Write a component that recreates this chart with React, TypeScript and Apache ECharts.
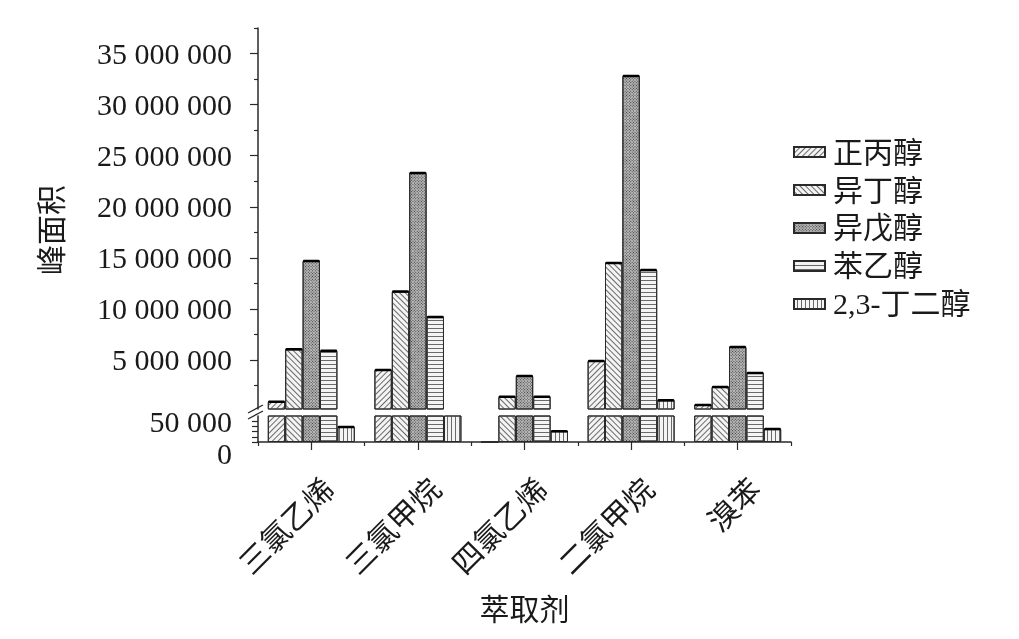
import React, { useEffect, useRef } from "react";
import * as echarts from "echarts";

const categories = ["三氯乙烯", "三氯甲烷", "四氯乙烯", "二氯甲烷", "溴苯"];
const seriesNames = ["正丙醇", "异丁醇", "异戊醇", "苯乙醇", "2,3-丁二醇"];
const propanol = [900000, 4020000, 0, 4900000, 600000];
const isobutanol = [6050000, 11700000, 1400000, 14500000, 2350000];
const isopentanol = [14700000, 23300000, 3430000, 32800000, 6270000];
const phenylethanol = [5900000, 9200000, 1400000, 13800000, 3730000];
const butanediol = [36000, 120000, 26000, 1050000, 31000];
const upperLabels = [5000000, 10000000, 15000000, 20000000, 25000000, 30000000, 35000000];
const upperMinor = [2500000, 7500000, 12500000, 17500000, 22500000, 27500000, 32500000, 37500000];
const lowerLabels = [0, 50000];
const lowerTicks = [0, 12500, 25000, 37500, 50000];

const allSeries = [propanol, isobutanol, isopentanol, phenylethanol, butanediol];
const UPPER_MIN = 200000;
const UPPER_MAX = 37500000;
const LOWER_MAX = 62500;

const FONT = "'Liberation Serif', 'Times New Roman', 'Noto Sans CJK SC', serif";
const TXT = "#1a1a1a";
const LINE = "#2a2a2a";
const FS = 30;

const fmt = (v: number) => String(v).replace(/\B(?=(\d{3})+(?!\d))/g, " ");

const styles = [
  { color: "#f4f4f4", decal: { symbol: "rect", symbolSize: 1, color: "#6a6a6a", dashArrayX: [1, 0], dashArrayY: [1, 2.5], rotation: -Math.PI / 4 } },
  { color: "#f4f4f4", decal: { symbol: "rect", symbolSize: 1, color: "#6a6a6a", dashArrayX: [1, 0], dashArrayY: [1, 2.5], rotation: Math.PI / 4 } },
  { color: "#b8b8b8", decal: { symbol: "rect", symbolSize: 1, color: "#3c3c3c", dashArrayX: [1, 1], dashArrayY: [1, 1], rotation: Math.PI / 4 } },
  { color: "#f4f4f4", decal: { symbol: "rect", symbolSize: 1, color: "#6a6a6a", dashArrayX: [1, 0], dashArrayY: [1, 2.5], rotation: 0 } },
  { color: "#f4f4f4", decal: { symbol: "rect", symbolSize: 1, color: "#6a6a6a", dashArrayX: [1, 0], dashArrayY: [1, 2.5], rotation: Math.PI / 2 } },
];

const GAP = 0.184;

function capRenderer(params: any, api: any) {
  const cat = api.value(0);
  const val = api.value(1);
  const idx = api.value(2);
  const pt = api.coord([cat, val]);
  const band = api.size([1, 0])[0];
  const bw = (band * (1 - GAP)) / 5;
  const cx = pt[0] + (idx - 2) * bw;
  return {
    type: "line",
    shape: { x1: cx - bw / 2 + 1.5, y1: pt[1], x2: cx + bw / 2 - 1.5, y2: pt[1] },
    style: { stroke: "#000", lineWidth: 2.5, lineCap: "round" },
  };
}

export default function App() {
  const ref = useRef<HTMLDivElement>(null);
  useEffect(() => {
    if (!ref.current) return;
    const chart = echarts.init(ref.current, null, { renderer: "svg" });

    const upperCaps: number[][] = [];
    const lowerCaps: number[][] = [];
    allSeries.forEach((arr, si) =>
      arr.forEach((v, ci) => {
        if (v >= UPPER_MIN) upperCaps.push([ci, v, si]);
        else if (v > 0 && v < LOWER_MAX) lowerCaps.push([ci, v, si]);
      })
    );

    const barSeries: any[] = [];
    allSeries.forEach((arr, si) => {
      const itemStyle = { color: styles[si].color, decal: styles[si].decal, borderColor: LINE, borderWidth: 1 };
      barSeries.push({
        type: "bar", name: seriesNames[si], xAxisIndex: 0, yAxisIndex: 0, data: arr,
        barGap: "0%", barCategoryGap: GAP * 100 + "%", itemStyle, clip: true,
      });
    });
    allSeries.forEach((arr, si) => {
      const itemStyle = { color: styles[si].color, decal: styles[si].decal, borderColor: LINE, borderWidth: 1 };
      barSeries.push({
        type: "bar", name: seriesNames[si], xAxisIndex: 1, yAxisIndex: 2, data: arr,
        barGap: "0%", barCategoryGap: GAP * 100 + "%", itemStyle, clip: true,
      });
    });

    chart.setOption({
      animation: false,
      textStyle: { fontFamily: FONT },
      grid: [
        { left: 258, top: 28, width: 533, height: 381 },
        { left: 258, top: 416, width: 533, height: 26 },
        { left: 276, top: 416, width: 533, height: 26 },
      ],
      xAxis: [
        { type: "category", gridIndex: 0, data: categories, show: false },
        {
          type: "category", gridIndex: 1, data: categories,
          axisLine: { lineStyle: { color: LINE, width: 1.5 } },
          axisTick: { show: true, length: 4, lineStyle: { color: LINE, width: 1.2 } },
          axisLabel: { show: false },
          name: "萃取剂", nameLocation: "middle", nameGap: 152,
          nameTextStyle: { fontSize: FS, color: TXT, fontFamily: FONT },
        },
        {
          type: "category", gridIndex: 1, data: categories, position: "bottom",
          axisLine: { show: false },
          axisTick: { show: true, alignWithLabel: true, length: 8, lineStyle: { color: LINE, width: 1.2 } },
          axisLabel: { show: false },
        },
        {
          type: "category", gridIndex: 2, data: categories, position: "bottom",
          axisLine: { show: false }, axisTick: { show: false },
          axisLabel: { show: true, interval: 0, rotate: 45, margin: 42, fontSize: FS, color: TXT, fontFamily: FONT },
        },
      ],
      yAxis: [
        {
          type: "value", gridIndex: 0, min: UPPER_MIN, max: UPPER_MAX, position: "left",
          splitLine: { show: false },
          axisLine: { show: true, lineStyle: { color: LINE, width: 1.5 } },
          axisTick: { show: true, length: 8, customValues: upperLabels, lineStyle: { color: LINE, width: 1.2 } },
          axisLabel: { show: true, customValues: upperLabels, formatter: (v: number) => fmt(v), fontSize: FS, color: TXT, margin: 26, fontFamily: FONT },
        },
        {
          type: "value", gridIndex: 0, min: UPPER_MIN, max: UPPER_MAX, position: "left", offset: 0,
          splitLine: { show: false },
          axisLine: { show: false },
          axisTick: { show: true, length: 4, customValues: upperMinor, lineStyle: { color: LINE, width: 1.2 } },
          axisLabel: { show: false },
        },
        {
          type: "value", gridIndex: 1, min: 0, max: LOWER_MAX, position: "left",
          splitLine: { show: false },
          axisLine: { show: true, lineStyle: { color: LINE, width: 1.5 } },
          axisTick: { show: true, length: 6, customValues: lowerTicks, lineStyle: { color: LINE, width: 1.2 } },
          axisLabel: {
            show: true, customValues: lowerLabels, margin: 26,
            formatter: (v: number) => (v === 0 ? "{z|0}" : "{n|" + fmt(v) + "}"),
            rich: {
              z: { fontSize: FS, color: TXT, fontFamily: FONT, padding: [22, 0, 0, 0] },
              n: { fontSize: FS, color: TXT, fontFamily: FONT },
            },
          },
        },
        { type: "value", gridIndex: 2, show: false, min: 0, max: 1 },
      ],
      legend: {
        data: seriesNames, orient: "vertical", left: 788, top: 132,
        itemWidth: 31, itemHeight: 10, itemGap: 8, icon: "rect",
        textStyle: { fontSize: FS, color: TXT, fontFamily: FONT, padding: [0, 0, 0, 3] },
        selectedMode: false,
      },
      graphic: [
        {
          type: "text", x: 51, y: 230, rotation: Math.PI / 2,
          style: { text: "峰面积", fontSize: FS, fill: TXT, fontFamily: FONT, align: "center", verticalAlign: "middle" },
        },
        { type: "line", shape: { x1: 248, y1: 413, x2: 263, y2: 405 }, style: { stroke: LINE, lineWidth: 1.3 } },
        { type: "line", shape: { x1: 248, y1: 419, x2: 263, y2: 411 }, style: { stroke: LINE, lineWidth: 1.3 } },
      ],
      series: [
        ...barSeries,
        { type: "custom", name: "capsU", xAxisIndex: 0, yAxisIndex: 0, data: upperCaps, renderItem: capRenderer, encode: { x: 0, y: 1 }, clip: true, z: 5 },
        { type: "custom", name: "capsL", xAxisIndex: 1, yAxisIndex: 2, data: lowerCaps, renderItem: capRenderer, encode: { x: 0, y: 1 }, clip: true, z: 5 },
      ],
    });
    return () => chart.dispose();
  }, []);
  return <div ref={ref} style={{ position: "fixed", left: 0, top: 0, width: 1019, height: 639 }} />;
}
